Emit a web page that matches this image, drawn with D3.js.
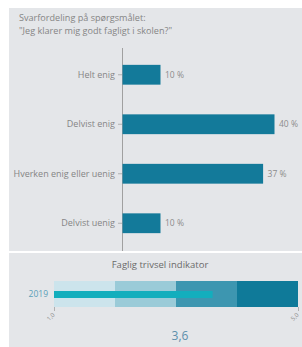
<!DOCTYPE html>
<html>
<head>
<meta charset="utf-8">
<script src="https://cdn.jsdelivr.net/npm/d3@7"></script>
<style>
  body { margin: 0; background: #fff; }
  svg text { font-family: "Open Sans", sans-serif; }
</style>
</head>
<body>
<div id="chart"></div>
<script>
// answer categories and shares (%)
var categories = ["Helt enig", "Delvist enig", "Hverken enig eller uenig", "Delvist uenig"];
var shares = [10, 40, 37, 10];
// indicator: band limits, yearly value
var bandLimits = [1, 2, 3, 4, 5];
var indicatorYears = ["2019"];
var indicatorValues = [3.6];
var scaleTicks = ["1,0", "5,0"];

var width = 302, height = 347;
var svg = d3.select("#chart").append("svg")
  .attr("width", width).attr("height", height);

// panels
svg.append("rect").attr("x", 9).attr("y", 8).attr("width", 293).attr("height", 243).attr("fill", "#e4e6e9");
svg.append("rect").attr("x", 9).attr("y", 253).attr("width", 293).attr("height", 94).attr("fill", "#e4e6e9");

// title
var title = svg.append("text").attr("x", 19).attr("y", 21)
  .attr("font-size", 9.1).attr("fill", "#858585");
title.append("tspan").attr("x", 19).text("Svarfordeling på spørgsmålet:");
title.append("tspan").attr("x", 19).attr("dy", 13).text("\"Jeg klarer mig godt fagligt i skolen?\"");

// bar chart
var x = d3.scaleLinear().domain([0, 40]).range([122, 274]);
var y = d3.scaleBand().domain(categories).range([50, 248])
  .paddingInner(0.6).paddingOuter(0.3);

var yAxis = svg.append("g").attr("transform", "translate(122,0)")
  .call(d3.axisLeft(y).tickSize(4).tickPadding(3));
yAxis.select(".domain").remove();
yAxis.selectAll("line").attr("stroke", "#b0b0b0");
yAxis.selectAll("text").attr("font-size", 9).attr("fill", "#858585")
  .style("font-family", "'Open Sans', sans-serif");
svg.append("line").attr("x1", 122.5).attr("x2", 122.5).attr("y1", 48).attr("y2", 251)
  .attr("stroke", "#a0a0a0").attr("stroke-width", 1);

var rows = categories.map(function(c, i) { return { cat: c, v: shares[i] }; });
svg.selectAll(".bar").data(rows).enter().append("rect")
  .attr("class", "bar")
  .attr("x", x(0) + 0.5)
  .attr("y", function(d) { return y(d.cat); })
  .attr("width", function(d) { return x(d.v) - x(0); })
  .attr("height", y.bandwidth())
  .attr("fill", "#137a9a");
svg.selectAll(".val").data(rows).enter().append("text")
  .attr("x", function(d) { return x(d.v) + 5; })
  .attr("y", function(d) { return y(d.cat) + y.bandwidth() / 2 + 3; })
  .attr("font-size", 8.5).attr("fill", "#8c8c8c")
  .text(function(d) { return d.v + " %"; });

// indicator panel
svg.append("text").attr("x", 160).attr("y", 268).attr("text-anchor", "middle")
  .attr("font-size", 9.5).attr("fill", "#6a6a6a").text("Faglig trivsel indikator");

var xi = d3.scaleLinear().domain([1, 5]).range([54, 298]);
var bandColors = ["#cce4ec", "#9acbd8", "#3d96b0", "#0f7a99"];
var bands = d3.pairs(bandLimits);
svg.selectAll(".band").data(bands).enter().append("rect")
  .attr("x", function(d) { return xi(d[0]); })
  .attr("y", 281)
  .attr("width", function(d) { return xi(d[1]) - xi(d[0]); })
  .attr("height", 26)
  .attr("fill", function(d, i) { return bandColors[i]; });

var yi = d3.scaleBand().domain(indicatorYears).range([281, 307]);
svg.selectAll(".measure").data(indicatorValues).enter().append("rect")
  .attr("x", xi(1))
  .attr("y", function(d, i) { return yi(indicatorYears[i]) + 10; })
  .attr("width", function(d) { return xi(d) - xi(1); })
  .attr("height", 7)
  .attr("fill", "#13aebd");
svg.selectAll(".year").data(indicatorYears).enter().append("text")
  .attr("x", 48).attr("y", function(d) { return yi(d) + yi.bandwidth() / 2 + 3; })
  .attr("text-anchor", "end").attr("font-size", 8.5).attr("fill", "#5a9fb8")
  .text(function(d) { return d; });

var xAxis = svg.append("g").attr("transform", "translate(0,307)")
  .call(d3.axisBottom(xi).tickValues([1, 5]).tickSize(4)
    .tickFormat(function(d, i) { return scaleTicks[i]; }));
xAxis.select(".domain").remove();
xAxis.selectAll("line").attr("stroke", "#b0b0b0");
xAxis.selectAll("text").attr("font-size", 6).attr("fill", "#909090")
  .attr("text-anchor", "end").attr("x", -1).attr("y", 0).attr("dy", "0.35em")
  .attr("transform", "translate(0,6) rotate(-45)")
  .style("font-family", "'Open Sans', sans-serif");

svg.append("text").attr("x", 180).attr("y", 340).attr("text-anchor", "middle")
  .attr("font-size", 12).attr("fill", "#5c8fac")
  .text(d3.format(".1f")(indicatorValues[0]).replace(".", ","));
</script>
</body>
</html>
